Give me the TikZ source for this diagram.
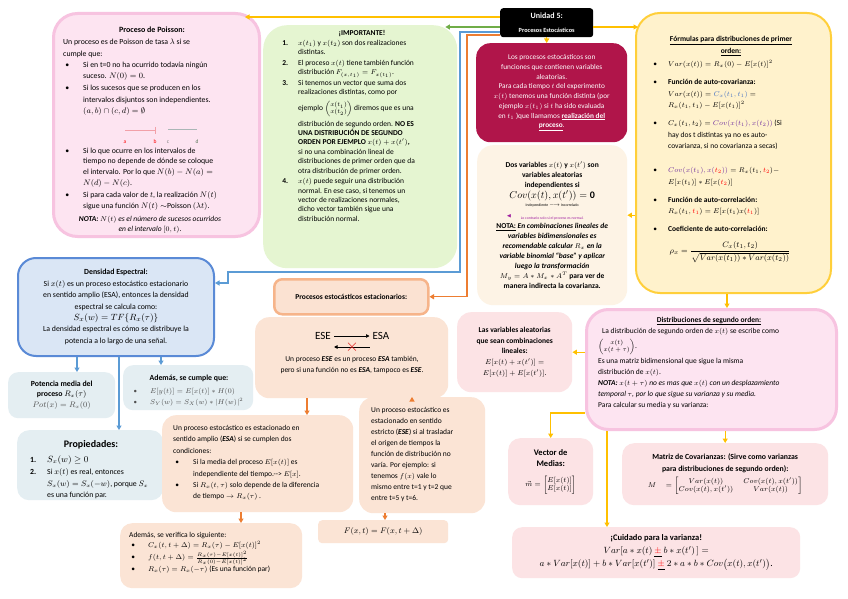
\documentclass[tikz,border=0pt]{standalone}
\usepackage{amsmath,amssymb}
\usepackage{fontspec}
\setmainfont{Carlito}
\usetikzlibrary{arrows.meta,calc}

\definecolor{poisfill}{HTML}{FDE4F1}
\definecolor{poisedge}{HTML}{F7C3E0}
\definecolor{impgreen}{HTML}{E5F5D1}
\definecolor{crimson}{HTML}{B0154A}
\definecolor{cream}{HTML}{FDF3E5}
\definecolor{yelfill}{HTML}{FFF2CC}
\definecolor{yeledge}{HTML}{FFCF3A}
\definecolor{densfill}{HTML}{DAE6F5}
\definecolor{densedge}{HTML}{5A8AD6}
\definecolor{potfill}{HTML}{E4EEF2}
\definecolor{peach}{HTML}{FBE2D2}
\definecolor{peachedge}{HTML}{F6B48A}
\definecolor{peach2}{HTML}{FBE4D5}
\definecolor{pinkbox}{HTML}{FCE3E5}
\definecolor{conyel}{HTML}{FFC000}
\definecolor{congreen}{HTML}{70AD47}
\definecolor{conblue}{HTML}{5B9BD5}
\definecolor{conorange}{HTML}{ED7D31}
\definecolor{covblue}{HTML}{4472C4}
\definecolor{covpurple}{HTML}{7030A0}
\definecolor{notepurple}{HTML}{A020A0}
\definecolor{xred}{HTML}{E02020}
\definecolor{mathgrey}{HTML}{505050}

\newenvironment{bul}[2]{\begin{list}{\textbullet}{\setlength\leftmargin{#1}\setlength\labelwidth{4pt}\setlength\labelsep{\dimexpr#1-6pt\relax}\setlength\itemsep{#2}\setlength\topsep{0pt}\setlength\parsep{0pt}\setlength\partopsep{0pt}\setlength\itemindent{0pt}\setlength\listparindent{0pt}}}{\end{list}}
\newenvironment{numl}[2]{\begin{list}{\textbf{\arabic{enumi}.}}{\usecounter{enumi}\setlength\leftmargin{#1}\setlength\labelwidth{6pt}\setlength\labelsep{\dimexpr#1-8pt\relax}\setlength\itemsep{#2}\setlength\topsep{0pt}\setlength\parsep{0pt}\setlength\partopsep{0pt}\setlength\itemindent{0pt}}}{\end{list}}

\newcommand{\mkpanel}[6]{\node[#6, anchor=north west, inner sep=0pt, minimum width={(#4)-(#2)}, minimum height={(#5)-(#3)}] (#1) at (#2,#3) {};}

\begin{document}
\begin{tikzpicture}[x=1pt,y=-1pt,
  body/.style={inner sep=0pt, font=\fontsize{7.8}{10.8}\selectfont},
  tl/.style={body, anchor=north west, align=flush left},
  tc/.style={body, anchor=center, align=flush center},
  arr/.style={line width=1.4pt, -{Triangle[length=4.5pt,width=5pt]}},
  yl/.style={arr, draw=conyel},
  gl/.style={arr, draw=congreen},
  bl/.style={arr, draw=conblue},
  ol/.style={arr, draw=conorange},
  thinarr/.style={line width=0.7pt, -{Triangle[length=3.5pt,width=3.5pt]}},
]
\fill[white] (0,0) rectangle (848,599);
\useasboundingbox (0,0) rectangle (848,599);

% ---------------- Poisson ----------------
\mkpanel{poisson}{52}{12}{258}{235}{fill=poisfill, draw=poisedge, line width=3pt, rounded corners=24pt}
\node[tc, font=\fontsize{8}{10}\selectfont\bfseries] (poisT) at (152,30) {Proceso de Poisson:};
\node[tl, text width=190pt, font=\fontsize{7.8}{11.3}\selectfont] (poisA) at (63,39) {Un proceso es de Poisson de tasa $\lambda$ si se\\ cumple que:
\begin{bul}{20pt}{1pt}
\item Si en t=0 no ha ocurrido todavía ningún\\ suceso. $N(0)=0$.
\item Si los sucesos que se producen en los\\ intervalos disjuntos son independientes.\\ $(a,b)\cap(c,d)=\emptyset$
\end{bul}};
\draw[draw={rgb,255:red,242;green,160;blue,168}, line width=1pt] (125,131) -- (155,131);
\draw[draw={rgb,255:red,242;green,160;blue,168}, line width=0.6pt] (155,127) -- (155,134);
\draw[draw={rgb,255:red,170;green,182;blue,182}, line width=1pt] (168,130) -- (197,130);
\node[inner sep=0pt, font=\fontsize{5.5}{6}\selectfont, text=red] (pa) at (125,142) {a};
\node[inner sep=0pt, font=\fontsize{5.5}{6}\selectfont, text=red] (pb) at (155,142) {b};
\node[inner sep=0pt, font=\fontsize{5.5}{6}\selectfont, text=gray] (pc) at (168,142) {c};
\node[inner sep=0pt, font=\fontsize{5.5}{6}\selectfont, text={rgb,255:red,90;green,120;blue,90}] (pd) at (197,142) {d};
\node[tl, text width=190pt, font=\fontsize{7.8}{10.8}\selectfont] (poisB) at (63,142) {%
\begin{bul}{20pt}{1pt}
\item Si lo que ocurre en los intervalos de\\ tiempo no depende de dónde se coloque\\ el intervalo. Por lo que $N(b)-N(a)=$\\ $N(d)-N(c)$.
\item Si para cada valor de $t$, la realización $N(t)$\\ sigue una función $N(t)\sim$Poisson $(\lambda t)$.
\end{bul}};
\node[body, anchor=north, align=flush center, font=\fontsize{7.5}{10.5}\selectfont] (poisC) at (150,216) {\textbf{\textit{NOTA:}}\textit{ $N(t)$ es el número de sucesos ocurridos}\\ \textit{en el intervalo} $[0,t)$.};

% ---------------- IMPORTANTE ----------------
\mkpanel{importante}{263}{25}{457}{268}{fill=impgreen, rounded corners=24pt}
\node[tc, font=\fontsize{7.5}{9}\selectfont\bfseries] (impT) at (362,34) {¡IMPORTANTE!};
\node[tl, text width=172pt, font=\fontsize{7.5}{9.4}\selectfont] (impA) at (280,36) {%
\begin{numl}{18pt}{1.2pt}
\item $x(t_1)$ y $x(t_2)$ son dos realizaciones\\ distintas.
\item El proceso $x(t)$ tiene también función\\ distribución $F_{(x,t_1)} = F_{x(t_1)}$.
\item Si tenemos un vector que suma dos\\ realizaciones distintas, como por\\[4pt] ejemplo {\fontsize{6.5}{7}\selectfont$\begin{pmatrix}x(t_1)\\ x(t_2)\end{pmatrix}$} diremos que es una\\[3pt] distribución de segundo orden. \textbf{NO ES}\\ \textbf{UNA DISTRIBUCIÓN DE SEGUNDO}\\ \textbf{ORDEN POR EJEMPLO $x(t)+x(t')$,}\\ si no una combinación lineal de\\ distribuciones de primer orden que da\\ otra distribución de primer orden.
\item $x(t)$ puede seguir una distribución\\ normal. En ese caso, si tenemos un\\ vector de realizaciones normales,\\ dicho vector también sigue una\\ distribución normal.
\end{numl}};

% ---------------- Unidad 5 ----------------
\node[fill=black, rounded corners=3pt, anchor=north west, minimum width=93pt, minimum height=29pt, inner sep=0pt, align=flush center, text=white] (unidad) at (500,8) {{\fontsize{8}{9}\selectfont\bfseries Unidad 5:}\\[1.5pt]{\fontsize{6.3}{7}\selectfont\bfseries Procesos Estocásticos}};

% ---------------- red box ----------------
\node[fill=crimson, rounded corners=14pt, anchor=north west, inner xsep=4pt, inner ysep=0pt, text width=143pt, minimum height=99pt, align=flush center, text=white, font=\fontsize{7.3}{9.7}\selectfont] (rojo) at (476,43) {Los procesos estocásticos son\\ funciones que contienen variables\\ aleatorias.\\ Para cada tiempo $t$ del experimento\\ $x(t)$ tenemos una función distinta (por\\ ejemplo $x(t_1)$ si $t$ ha sido evaluada\\ en $t_1$ )que llamamos \underline{\textbf{realización del}}\\ \underline{\textbf{proceso}}.};

% ---------------- Dos variables ----------------
\node[fill=cream, rounded corners=16pt, anchor=north west, inner xsep=5pt, inner ysep=0pt, text width=140pt, minimum height=160pt, align=flush center, font=\fontsize{7.5}{10}\selectfont] (dosvar) at (477,145) {\textbf{Dos variables $x(t)$ y $x(t')$ son}\\ \textbf{variables aleatorias}\\ \textbf{independientes si}\\[1pt] {\fontsize{10}{12}\selectfont $Cov(x(t),x(t'))=\mathbf{0}$}\\[-2pt] {\fontsize{3.8}{4.5}\selectfont Independiente $\longrightarrow$ Incorrelado}\\[3pt] {\fontsize{3.8}{4.5}\selectfont\color{notepurple} Lo contrario solo si el proceso es normal.}\\[-1pt] {\bfseries\underline{NOTA:}\itshape{} En combinaciones lineales de}\\ {\bfseries\itshape variables bidimensionales es}\\ {\bfseries\itshape recomendable calcular $R_x$ en la}\\ {\bfseries\itshape variable binomial ``base'' y aplicar}\\ {\bfseries\itshape luego la transformación}\\ {\bfseries $M_y = A*M_x*A^T$ para ver de}\\ {\bfseries manera indirecta la covarianza.}};
\node[inner sep=0pt, font=\fontsize{5}{5}\selectfont, text=notepurple] (purplearr) at (509,216) {$\blacktriangleleft$};

% ---------------- Formulas (yellow) ----------------
\mkpanel{formulas}{635}{12}{830}{292}{fill=yelfill, draw=yeledge, line width=2pt, rounded corners=24pt}
\node[tc, font=\fontsize{7.5}{12}\selectfont\bfseries] (formT) at (731,46) {\underline{Fórmulas para distribuciones de primer}\\ \underline{orden:}};
\node[tl, text width=175pt, font=\fontsize{7.5}{11.5}\selectfont] (formA) at (651,55) {%
\begin{bul}{17pt}{6.5pt}
\item $Var(x(t)) = R_x(0) - E[x(t)]^2$
\item \textbf{Función de auto-covarianza:}\\ $Var(x(t)) = \textcolor{covblue}{C_x(t_1,t_1)} =$\\ $R_x(t_1,t_1) - E[x(t_1)]^2$
\item $C_x(t_1,t_2) = \textcolor{covpurple}{Cov(x(t_1),x(t_2))}$ (Si\\ hay dos t distintas ya no es auto-\\ covarianza, si no covarianza a secas)\par\vspace{6pt}
\item $\textcolor{covpurple}{Cov(x(t_1),x(\textcolor{red}{t_2}))} = R_x(t_1,\textcolor{red}{t_2}) -$\\ $E[x(t_1)] * E[x(\textcolor{red}{t_2})]$
\item \textbf{Función de auto-correlación:}\\ $R_x(t_1,\textcolor{red}{t_1}) = E[x(t_1)x(\textcolor{red}{t_1})]$
\item \textbf{Coeficiente de auto-correlación:}
\end{bul}};
\node[tc, font=\fontsize{8}{10}\selectfont] (formF) at (730,252) {$\rho_x = \dfrac{C_x(t_1,t_2)}{\sqrt{Var(x(t_1))*Var(x(t_2))}}$};

% ---------------- Densidad Espectral ----------------
\node[fill=densfill, draw=densedge, line width=2pt, rounded corners=18pt, anchor=north west, inner xsep=4pt, inner ysep=0pt, text width=188pt, minimum height=98pt, align=flush center, font=\fontsize{7.8}{11.4}\selectfont] (densidad) at (17,257) {\textbf{Densidad Espectral:}\\ Si $x(t)$ es un proceso estocástico estacionario\\ en sentido amplio (ESA), entonces la densidad\\ espectral se calcula como:\\ {\fontsize{9.5}{11}\selectfont $S_x(w) = TF\{R_x(\tau)\}$}\\ La densidad espectral es cómo se distribuye la\\ potencia a lo largo de una señal.};

\node[fill=potfill, rounded corners=10pt, anchor=north west, inner xsep=4pt, inner ysep=0pt, text width=99pt, minimum height=46pt, align=flush center, font=\fontsize{7.8}{10.5}\selectfont] (potencia) at (8,372) {\textbf{Potencia media del}\\ \textbf{proceso $R_x(\tau)$}\\ {\color{mathgrey}$Pot(x) = R_x(0)$}};

\mkpanel{ademas}{123}{365}{253}{410}{fill=potfill, rounded corners=10pt}
\node[tc, font=\fontsize{7.8}{9}\selectfont\bfseries] (ademasT) at (189,378) {Además, se cumple que:};
\node[tl, text width=120pt, font=\fontsize{7}{10.5}\selectfont\color{mathgrey}] (ademasL) at (131,383) {%
\begin{bul}{19pt}{0pt}
\item $E[y(t)] = E[x(t)] * H(0)$
\item $S_Y(w) = S_X(w) * |H(w)|^2$
\end{bul}};

\mkpanel{propiedades}{17}{430}{163}{500}{fill=potfill, rounded corners=12pt}
\node[tc, font=\fontsize{10}{12}\selectfont\bfseries] (propT) at (91,445) {Propiedades:};
\node[tl, text width=130pt, font=\fontsize{7.8}{11.5}\selectfont] (propL) at (28,451) {%
\begin{numl}{19pt}{0.5pt}
\item {\fontsize{9}{9}\selectfont $S_x(w)\geq 0$}
\item Si $x(t)$ es real, entonces\\ $S_x(w)=S_x(-w)$, porque $S_x$\\ es una función par.
\end{numl}};

% ---------------- Estacionarios ----------------
\node[fill=peach, draw=peachedge, line width=2.5pt, rounded corners=8pt, anchor=north west, minimum width=154pt, minimum height=35pt, inner sep=0pt, font=\fontsize{7.5}{9}\selectfont\bfseries] (procest) at (273,278) {Procesos estocásticos estacionarios:};

\mkpanel{esebox}{255}{317}{448}{398}{fill=peach2, rounded corners=14pt}
\node[inner sep=0pt, font=\fontsize{11}{12}\selectfont] (eseT) at (323,336) {ESE};
\node[inner sep=0pt, font=\fontsize{11}{12}\selectfont] (esaT) at (381,336) {ESA};
\draw[thinarr] ($(eseT.east)+(3,0)$) -- ($(esaT.west)+(-3,0)$);
\draw[thinarr] ($(esaT.west)+(-3,11)$) -- ($(eseT.east)+(3,11)$);
\node[inner sep=0pt, text=xred, font=\fontsize{16}{16}\selectfont] (crossX) at (352,347) {$\times$};
\node[tc, font=\fontsize{7.5}{11}\selectfont] (eseD) at (352,364.5) {Un proceso \textbf{\textit{ESE}} es un proceso \textbf{\textit{ESA}} también,\\ pero si una función no es \textbf{\textit{ESA}}, tampoco es \textbf{\textit{ESE}}.};

\mkpanel{esa}{162}{415}{353}{512}{fill=peach2, rounded corners=14pt}
\node[tl, text width=178pt, font=\fontsize{7.5}{11.4}\selectfont] (esaL) at (173,425) {Un proceso estocástico es estacionado en\\ sentido amplio (\textbf{\textit{ESA}}) si se cumplen dos\\ condiciones:
\begin{bul}{20pt}{0pt}
\item Si la media del proceso $E[x(t)]$ es\\ independiente del tiempo.-{}-{}> $E[x]$.
\item Si $R_x(t,\tau)$ solo depende de la diferencia\\ de tiempo $\rightarrow R_x(\tau)$ .
\end{bul}};

\mkpanel{estricto}{359}{397}{485}{513}{fill=peach2, rounded corners=14pt}
\node[tl, text width=115pt, font=\fontsize{7.5}{11}\selectfont] (estrL) at (371,407) {Un proceso estocástico es\\ estacionado en sentido\\ estricto (\textbf{\textit{ESE}}) si al trasladar\\ el origen de tiempos la\\ función de distribución no\\ varía. Por ejemplo: si\\ tenemos $f(x)$ vale lo\\ mismo entre t=1 y t=2 que\\ entre t=5 y t=6.};

\mkpanel{verif}{120}{523}{302}{588}{fill=peach2, rounded corners=12pt}
\node[tl, text width=170pt, font=\fontsize{7.5}{10.5}\selectfont] (verifL) at (129,532) {Además, se verifica lo siguiente:
\begin{bul}{19pt}{1.5pt}
\item $C_x(t,t+\Delta) = R_x(\tau) - E[x(t)]^2$
\item $f(t,t+\Delta) = \frac{R_x(\tau)-E[x(t)]^2}{R_x(0)-E[x(t)]^2}$
\item $R_x(\tau) = R_x(-\tau)$ (Es una función par)
\end{bul}};

\node[fill=peach2, rounded corners=4pt, anchor=north west, minimum width=130pt, minimum height=23pt, inner sep=0pt, font=\fontsize{8.5}{10}\selectfont] (fbox) at (318,520) {$F(x,t) = F(x,t+\Delta)$};

% ---------------- Segundo orden ----------------
\node[fill=pinkbox, rounded corners=14pt, anchor=north west, inner xsep=3pt, inner ysep=0pt, text width=109pt, minimum height=80pt, align=flush center, font=\fontsize{7.5}{10.8}\selectfont] (lasvar) at (457,312) {\textbf{Las variables aleatorias}\\ \textbf{que sean combinaciones}\\ \textbf{lineales:}\\ $E[x(t)+x(t')] =$\\ $E[x(t)] + E[x(t')]$.};

\mkpanel{segundo}{585}{308}{835}{428}{fill=poisfill, draw=poisedge, line width=3pt, rounded corners=22pt}
\node[tc, font=\fontsize{7.5}{9}\selectfont\bfseries] (segT) at (709,321) {\underline{Distribuciones de segundo orden:}};
\node[tl, text width=232pt, font=\fontsize{7.5}{11}\selectfont] (segL) at (598,328) {\hspace*{4pt}La distribución de segundo orden de $x(t)$ se escribe como\\[3pt] {\fontsize{6.5}{7}\selectfont$\begin{pmatrix}x(t)\\ x(t+\tau)\end{pmatrix}$}.\\[2pt] Es una matriz bidimensional que sigue la misma\\ distribución de $x(t)$.\\ \textbf{\textit{NOTA:}}\textit{ $x(t+\tau)$ no es mas que $x(t)$ con un desplazamiento}\\ \textit{temporal $\tau$, por lo que sigue su varianza y su media.}\\ Para calcular su media y su varianza:};

\node[fill=pinkbox, rounded corners=12pt, anchor=north west, inner sep=0pt, text width=85pt, minimum height=67pt, align=flush center, font=\fontsize{8.5}{11}\selectfont] (vector) at (508,438) {\textbf{Vector de}\\ \textbf{Medias:}\\[9pt] {\fontsize{7.5}{8}\selectfont $\vec{m} = \begin{bmatrix}E[x(t)]\\ E[x(t)]\end{bmatrix}$}};

\node[fill=pinkbox, rounded corners=12pt, anchor=north west, inner sep=0pt, text width=206pt, minimum height=62pt, align=flush center, font=\fontsize{7.8}{11.5}\selectfont] (matriz) at (622,443) {\textbf{Matriz de Covarianzas: (Sirve como varianzas}\\ \textbf{para distribuciones de segundo orden):}\\[4pt] {\fontsize{7.2}{8}\selectfont $M\quad = \begin{bmatrix} Var(x(t)) & Cov(x(t),x(t'))\\ Cov(x(t),x(t')) & Var(x(t))\end{bmatrix}$}};

\node[fill=pinkbox, rounded corners=10pt, anchor=north west, inner sep=0pt, text width=288pt, minimum height=51pt, align=flush center, font=\fontsize{8.5}{13}\selectfont] (cuidado) at (512,527) {\textbf{¡Cuidado para la varianza!}\\ {\fontsize{9.5}{11}\selectfont $Var[a*x(t) \mathbin{\underline{\textcolor{red}{\pm}}} b*x(t')\,] =$}\\ {\fontsize{9.5}{11}\selectfont $a*Var[x(t)] + b*Var[x(t')] \mathbin{\underline{\textcolor{red}{\pm}}} 2*a*b*Cov\big(x(t),x(t')\big)$.}};

% ---------------- connectors ----------------
\draw[yl] ($(unidad.north west)+(0,9)$) -- ($(poisson.north east)+(-16,5)$);
\draw[gl] ($(unidad.north west)+(0,19)$) -- ($(importante.north east)+(-12,2)$);
\draw[bl] ($(unidad.north west)+(0,24)$) -- (460,32) -- (460,272) -- (228,272) -- (228,283) -- ($(densidad.north east)+(0,26)$);
\draw[ol] ($(unidad.north west)+(0,27)$) -- (467,35) |- (procest.east);
\draw[yl] ($(unidad.north east)+(0,19)$) -- ($(formulas.north west)+(3,15)$);
\draw[yl] (unidad.south) -- (unidad.south |- rojo.north);
\coordinate (dvy) at ($(dosvar.east)+(0,-10)$);
\draw[yl] (formulas.west |- dvy) -- (dvy);
\coordinate (c2) at (727,0);
\draw[yl] (c2 |- formulas.south) -- (c2 |- segundo.north);
\draw[yl] (segundo.west |- lasvar.east) -- (lasvar.east);
\draw[yl] ($(segundo.south west)+(0,-18)$) -| (vector.north);
\coordinate (c3) at (607,0);
\draw[yl] (c3 |- segundo.south) -- (c3 |- cuidado.north);
\draw[yl] (matriz.north |- segundo.south) -- (matriz.north);
\coordinate (b1) at (77,0);
\coordinate (b2) at (161,0);
\coordinate (b3) at (119,0);
\draw[bl] (b1 |- densidad.south) -- (b1 |- potencia.north);
\draw[bl] (b2 |- densidad.south) -- (b2 |- ademas.north);
\draw[bl] (b3 |- densidad.south) -- (b3 |- propiedades.north);
\coordinate (o1) at (307,0);
\coordinate (o2) at (412,0);
\coordinate (o3) at (241,0);
\coordinate (o4) at (385,0);
\draw[ol] (o1 |- esebox.south) -- (o1 |- esa.north);
\draw[ol] (o2 |- esebox.south) -- (o2 |- estricto.north);
\draw[ol] (o3 |- esa.south) -- (o3 |- verif.north);
\draw[ol] (o4 |- estricto.south) -- (o4 |- fbox.north);
\end{tikzpicture}
\end{document}
